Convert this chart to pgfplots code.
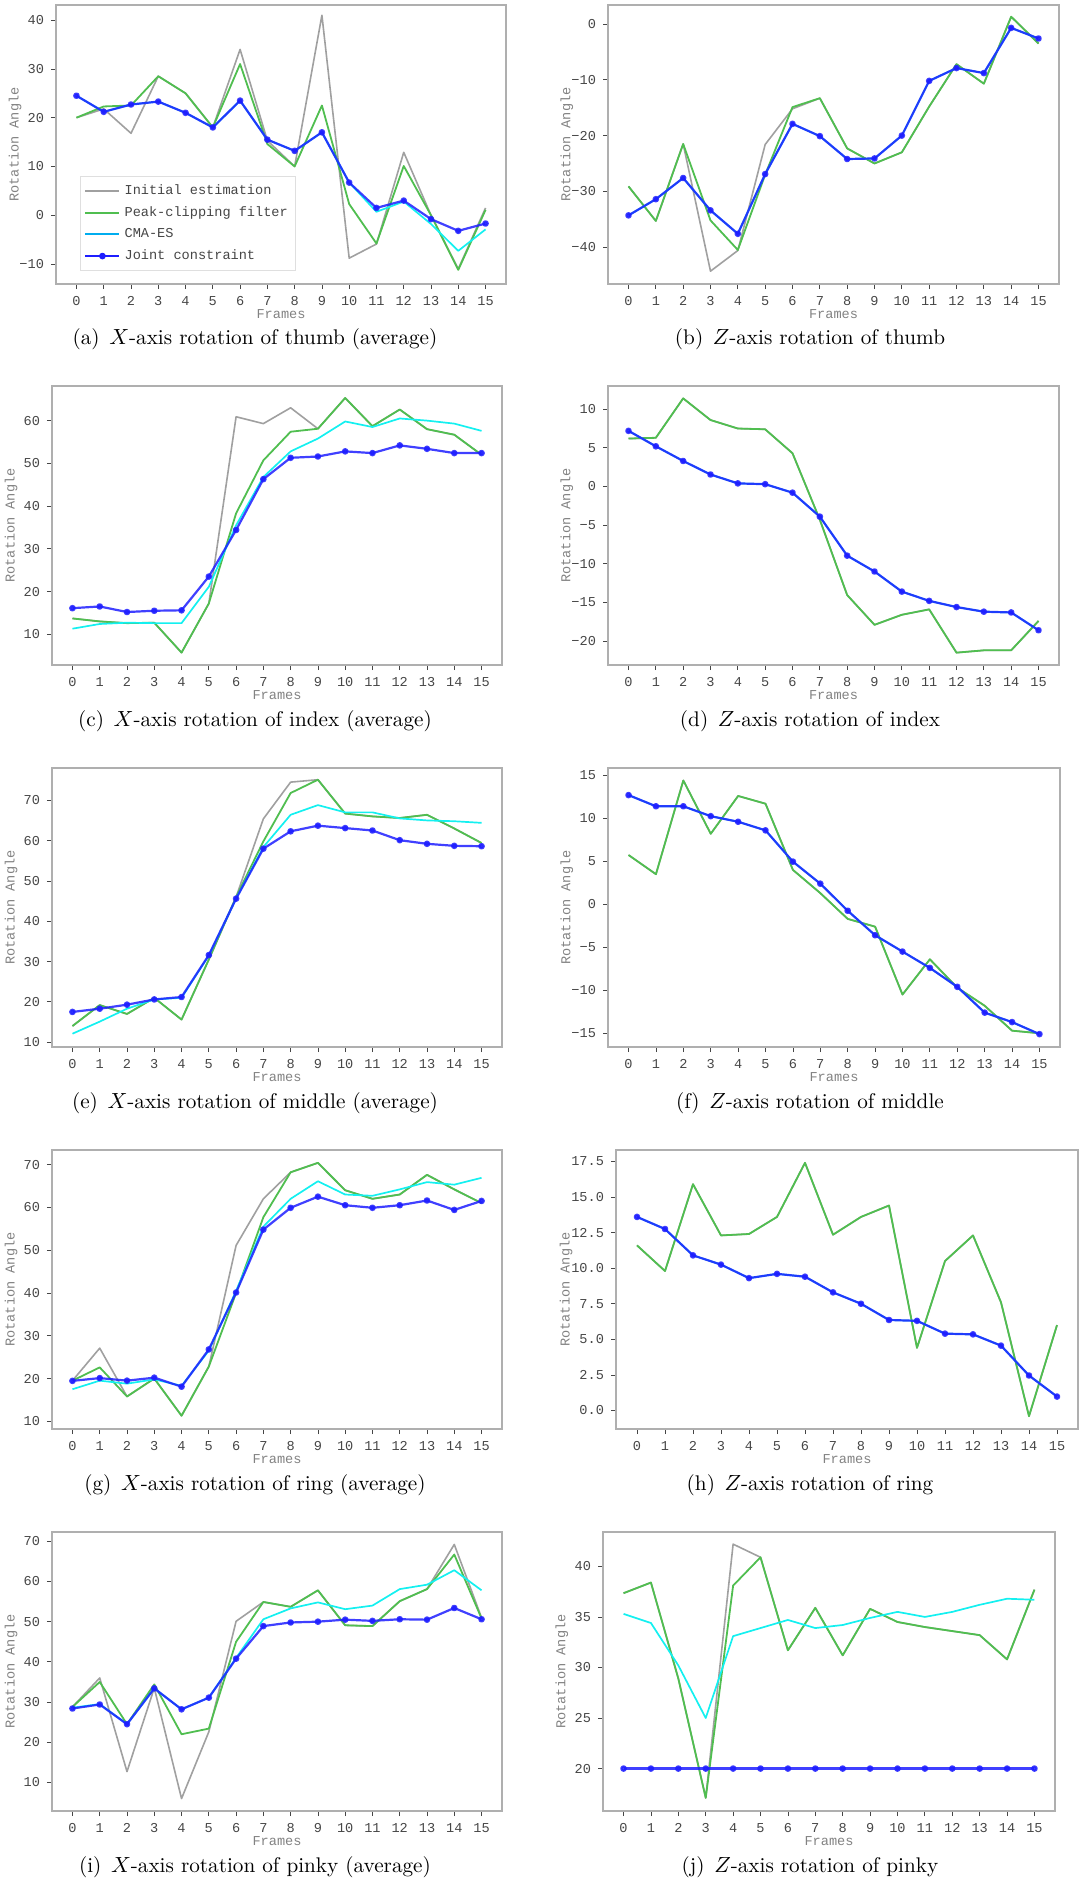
\documentclass[border=0pt]{standalone}
\usepackage{fontspec}
\usepackage{pgfplots}
\usepackage{pgfplotstable}
\pgfplotsset{compat=1.18}
\newfontfamily\simfont{Liberation Mono}

\definecolor{grayline}{RGB}{160,160,160}
\definecolor{greenline}{RGB}{80,190,80}
\definecolor{cyanline}{RGB}{20,240,240}
\definecolor{blueline}{RGB}{30,30,255}
\definecolor{framegray}{RGB}{175,175,175}
\definecolor{tickcol}{RGB}{70,70,70}
\definecolor{labcol}{RGB}{130,130,130}

\pgfplotstableread{
x init peak cma joint
0 20 20 24.5 24.5
1 21.8 22.3 21.2 21.2
2 16.8 22.5 22.7 22.7
3 28.5 28.5 23.3 23.3
4 25 25 21 21
5 18 18 18 18
6 34 31 23.5 23.5
7 15.3 14.6 15.5 15.5
8 10 10 13.2 13.2
9 41 22.5 17 17
10 -8.8 2.3 6.7 6.7
11 -5.9 -5.8 0.7 1.5
12 12.9 10.1 2.8 3
13 0 0 -1.8 -0.8
14 -11 -11.2 -7.3 -3.2
15 1.5 1.1 -2.9 -1.7
}\tA

\pgfplotstableread{
x init peak cma joint
0 -29.1 -29.1 -34.3 -34.3
1 -35.3 -35.3 -31.4 -31.4
2 -21.5 -21.5 -27.6 -27.6
3 -44.3 -35.2 -33.4 -33.4
4 -40.6 -40.5 -37.6 -37.6
5 -21.6 -27 -26.9 -26.9
6 -15.2 -14.9 -17.9 -17.9
7 -13.3 -13.3 -20.1 -20.1
8 -22.3 -22.3 -24.2 -24.2
9 -25 -25 -24.1 -24.1
10 -23 -23 -20 -20
11 -14.8 -14.8 -10.2 -10.2
12 -7.2 -7.2 -7.9 -7.9
13 -10.7 -10.7 -8.8 -8.8
14 1.3 1.3 -0.7 -0.7
15 -3.5 -3.5 -2.6 -2.6
}\tB

\pgfplotstableread{
x init peak cma joint
0 13.7 13.7 11.3 16.1
1 13 13 12.4 16.5
2 12.6 12.6 12.7 15.2
3 12.7 12.7 12.6 15.5
4 5.7 5.7 12.6 15.6
5 17.2 17.2 21.1 23.5
6 60.9 38.3 35.5 34.4
7 59.3 50.7 46.8 46.3
8 63 57.4 52.8 51.3
9 58.1 58.1 55.8 51.6
10 65.3 65.3 59.8 52.8
11 58.7 58.7 58.5 52.4
12 62.6 62.6 60.5 54.2
13 58 58 60 53.4
14 56.7 56.7 59.3 52.4
15 52 52 57.6 52.4
}\tC

\pgfplotstableread{
x init peak cma joint
0 6.2 6.2 7.2 7.2
1 6.3 6.3 5.2 5.2
2 11.4 11.4 3.3 3.3
3 8.6 8.6 1.55 1.55
4 7.5 7.5 0.4 0.4
5 7.4 7.4 0.3 0.3
6 4.3 4.3 -0.8 -0.8
7 -4.3 -4.3 -3.9 -3.9
8 -14.05 -14.05 -8.95 -8.95
9 -17.9 -17.9 -11 -11
10 -16.6 -16.6 -13.6 -13.6
11 -15.9 -15.9 -14.8 -14.8
12 -21.5 -21.5 -15.6 -15.6
13 -21.2 -21.2 -16.2 -16.2
14 -21.2 -21.2 -16.3 -16.3
15 -17.4 -17.4 -18.6 -18.6
}\tD

\pgfplotstableread{
x init peak cma joint
0 14 14 12.1 17.5
1 19.2 19.2 15.1 18.3
2 17 17 18.3 19.3
3 21 21 20.6 20.6
4 15.6 15.6 21 21.2
5 30.5 30.5 31.5 31.6
6 46 46 45.6 45.6
7 65.4 59.8 58.4 58
8 74.5 71.8 66.4 62.3
9 75.1 75.1 68.8 63.7
10 66.7 66.7 67 63.1
11 66 66 67 62.5
12 65.6 65.6 65.5 60.1
13 66.4 66.4 65 59.2
14 63 63 64.8 58.7
15 59.4 59.4 64.4 58.6
}\tE

\pgfplotstableread{
x init peak cma joint
0 5.73 5.73 12.7 12.7
1 3.5 3.5 11.4 11.4
2 14.4 14.4 11.4 11.4
3 8.2 8.2 10.25 10.25
4 12.6 12.6 9.6 9.6
5 11.7 11.7 8.6 8.6
6 4 4 4.96 4.96
7 1.3 1.3 2.4 2.4
8 -1.7 -1.7 -0.75 -0.75
9 -2.6 -2.6 -3.6 -3.6
10 -10.5 -10.5 -5.5 -5.5
11 -6.4 -6.4 -7.4 -7.4
12 -9.7 -9.7 -9.6 -9.6
13 -11.8 -11.8 -12.6 -12.6
14 -14.7 -14.7 -13.7 -13.7
15 -15 -15 -15.1 -15.1
}\tF

\pgfplotstableread{
x init peak cma joint
0 19.5 19.5 17.5 19.45
1 27.1 22.6 19.5 20.1
2 15.8 15.8 18.8 19.5
3 20 20 19.8 20.2
4 11.3 11.3 18.3 18.1
5 22.8 22.8 26.5 26.8
6 51.1 40 40.5 40.1
7 62 57.7 55.5 54.8
8 68.2 68.2 62 59.9
9 70.4 70.4 66.1 62.5
10 64 64 63 60.5
11 62 62 62.7 59.9
12 63 63 64.2 60.5
13 67.6 67.6 65.9 61.6
14 64.2 64.2 65.3 59.4
15 61 61 66.9 61.5
}\tG

\pgfplotstableread{
x init peak cma joint
0 11.6 11.6 13.6 13.6
1 9.8 9.8 12.75 12.75
2 15.9 15.9 10.9 10.9
3 12.3 12.3 10.25 10.25
4 12.4 12.4 9.3 9.3
5 13.6 13.6 9.6 9.6
6 17.4 17.4 9.4 9.4
7 12.35 12.35 8.3 8.3
8 13.6 13.6 7.5 7.5
9 14.4 14.4 6.36 6.36
10 4.4 4.4 6.3 6.3
11 10.5 10.5 5.4 5.4
12 12.3 12.3 5.35 5.35
13 7.6 7.6 4.56 4.56
14 -0.4 -0.4 2.46 2.46
15 6 6 0.98 0.98
}\tH

\pgfplotstableread{
x init peak cma joint
0 28.8 28.8 28.6 28.4
1 36 35 29.5 29.4
2 12.7 24.5 24.5 24.5
3 33.5 34.4 33.4 33.4
4 6 22 28.2 28.2
5 22.6 23.4 31.1 31.1
6 50.1 45 41 40.8
7 54.9 54.9 50.6 48.9
8 53.7 53.7 53.3 49.8
9 57.8 57.8 54.8 50
10 49.1 49.1 53.1 50.5
11 48.9 48.9 54 50.2
12 55.1 55.1 58.1 50.6
13 58.1 58.1 59.2 50.5
14 69.2 66.7 62.8 53.4
15 51 50.8 57.8 50.6
}\tI

\pgfplotstableread{
x init peak cma joint
0 37.35 37.35 35.3 20
1 38.4 38.4 34.4 20
2 28.9 28.9 30.2 20
3 17.1 17.1 25 20
4 42.2 38.1 33.1 20
5 40.9 40.9 33.9 20
6 31.7 31.7 34.7 20
7 35.9 35.9 33.9 20
8 31.2 31.2 34.2 20
9 35.8 35.8 34.9 20
10 34.5 34.5 35.5 20
11 34 34 35 20
12 33.6 33.6 35.5 20
13 33.2 33.2 36.2 20
14 30.8 30.8 36.8 20
15 37.7 37.7 36.7 20
}\tJ

\pgfplotsset{
  panel/.style={
    scale only axis, height=139.5pt, anchor=north west,
    xmin=-0.75, xmax=15.75, xtick={0,1,...,15},
    axis line style={draw=framegray, line width=0.6pt},
    tick style={draw=tickcol, line width=0.4pt},
    tick align=outside, major tick length=2.5pt,
    xtick pos=bottom, ytick pos=left,
    ticklabel style={font=\simfont\fontsize{6.8}{8}\selectfont, text=tickcol},
    /pgf/number format/assume math mode=true,
    xlabel={Frames}, ylabel={Rotation Angle},
    label style={font=\simfont\fontsize{6.8}{8}\selectfont, text=labcol},
    xlabel style={at={(axis description cs:0.5,-0.108)}, anchor=center},
    ylabel style={at={(axis description cs:-0.091,0.5)}, anchor=center},
    every axis plot/.append style={line join=round},
    clip=false,
  },
  initsty/.style={color=grayline, line width=0.8pt, mark=none},
  peaksty/.style={color=greenline, line width=0.9pt, mark=none},
  cmasty/.style={color=cyanline, line width=0.85pt, mark=none},
  jointsty/.style={color=blueline, line width=1.1pt, mark=*, mark size=1.1pt, opacity=0.85},
}

\newcommand\fourlines[1]{%
  \addplot[initsty, forget plot] table[x=x,y=init]{#1};
  \addplot[peaksty, forget plot] table[x=x,y=peak]{#1};
  \addplot[cmasty, forget plot] table[x=x,y=cma]{#1};
  \addplot[jointsty, forget plot] table[x=x,y=joint]{#1};
}
\newcommand\capt[1]{\fontsize{10.6}{12.7}\selectfont #1}

\begin{document}
\begin{tikzpicture}
\path[use as bounding box] (0,0) rectangle (541.5pt,-940.5pt);

% (a)
\begin{axis}[panel, at={(28pt,-2.5pt)}, width=225pt,
  ymin=-14.1, ymax=43.1, ytick={-10,0,10,20,30,40},
  yticklabels={−10,0,10,20,30,40},
  legend style={at={(axis description cs:0.053,0.047)}, anchor=south west,
    draw=gray!25, fill=white, font=\simfont\fontsize{6.8}{8}\selectfont,
    text=tickcol, row sep=0.6pt, inner sep=2pt},
  legend cell align=left]
\fourlines{\tA}
\addlegendimage{color=grayline, line width=0.9pt}
\addlegendentry{Initial estimation}
\addlegendimage{color=greenline, line width=1pt}
\addlegendentry{Peak-clipping filter}
\addlegendimage{color=cyan, line width=1.1pt}
\addlegendentry{CMA-ES}
\addlegendimage{color=blueline, line width=1.1pt, mark=*, mark size=1.1pt}
\addlegendentry{Joint constraint}
\end{axis}
\node at (127.5pt,-169.5pt) {\capt{(a)\hspace{0.45em}$X$-axis rotation of thumb (average)}};

% (b)
\begin{axis}[panel, at={(304pt,-2.5pt)}, width=225.5pt,
  ymin=-46.6, ymax=3.4, ytick={-40,-30,-20,-10,0},
  yticklabels={−40,−30,−20,−10,0}]
\fourlines{\tB}
\end{axis}
\node at (405pt,-169.5pt) {\capt{(b)\hspace{0.45em}$Z$-axis rotation of thumb}};

% (c)
\begin{axis}[panel, at={(26pt,-193pt)}, width=225pt,
  ymin=2.8, ymax=68.1, ytick={10,20,30,40,50,60},
  yticklabels={10,20,30,40,50,60}]
\fourlines{\tC}
\end{axis}
\node at (127.5pt,-360.5pt) {\capt{(c)\hspace{0.45em}$X$-axis rotation of index (average)}};

% (d)
\begin{axis}[panel, at={(304pt,-193pt)}, width=225.5pt,
  ymin=-23.1, ymax=13.0, ytick={-20,-15,-10,-5,0,5,10},
  yticklabels={−20,−15,−10,−5,0,5,10}]
\fourlines{\tD}
\end{axis}
\node at (405pt,-360.5pt) {\capt{(d)\hspace{0.45em}$Z$-axis rotation of index}};

% (e)
\begin{axis}[panel, at={(26pt,-384pt)}, width=225pt,
  ymin=8.8, ymax=78.0, ytick={10,20,30,40,50,60,70},
  yticklabels={10,20,30,40,50,60,70}]
\fourlines{\tE}
\end{axis}
\node at (127.5pt,-551.5pt) {\capt{(e)\hspace{0.45em}$X$-axis rotation of middle (average)}};

% (f)
\begin{axis}[panel, at={(304pt,-384pt)}, width=226pt,
  ymin=-16.6, ymax=15.85, ytick={-15,-10,-5,0,5,10,15},
  yticklabels={−15,−10,−5,0,5,10,15}]
\fourlines{\tF}
\end{axis}
\node at (405pt,-551.5pt) {\capt{(f)\hspace{0.45em}$Z$-axis rotation of middle}};

% (g)
\begin{axis}[panel, at={(26pt,-575pt)}, width=225pt,
  ymin=8.2, ymax=73.4, ytick={10,20,30,40,50,60,70},
  yticklabels={10,20,30,40,50,60,70}]
\fourlines{\tG}
\end{axis}
\node at (127.5pt,-742.5pt) {\capt{(g)\hspace{0.45em}$X$-axis rotation of ring (average)}};

% (h)
\begin{axis}[panel, at={(308pt,-575pt)}, width=231pt,
  ymin=-1.3, ymax=18.3, ytick={0,2.5,5,7.5,10,12.5,15,17.5},
  yticklabels={0.0,2.5,5.0,7.5,10.0,12.5,15.0,17.5},
  ylabel style={at={(axis description cs:-0.108,0.5)}}]
\fourlines{\tH}
\end{axis}
\node at (405pt,-742.5pt) {\capt{(h)\hspace{0.45em}$Z$-axis rotation of ring}};

% (i)
\begin{axis}[panel, at={(26pt,-766pt)}, width=225pt,
  ymin=2.9, ymax=72.3, ytick={10,20,30,40,50,60,70},
  yticklabels={10,20,30,40,50,60,70}]
\fourlines{\tI}
\end{axis}
\node at (127.5pt,-933.5pt) {\capt{(i)\hspace{0.45em}$X$-axis rotation of pinky (average)}};

% (j)
\begin{axis}[panel, at={(301.5pt,-766pt)}, width=226pt,
  ymin=15.8, ymax=43.4, ytick={20,25,30,35,40},
  yticklabels={20,25,30,35,40}]
\fourlines{\tJ}
\end{axis}
\node at (405pt,-933.5pt) {\capt{(j)\hspace{0.45em}$Z$-axis rotation of pinky}};
\end{tikzpicture}
\end{document}
